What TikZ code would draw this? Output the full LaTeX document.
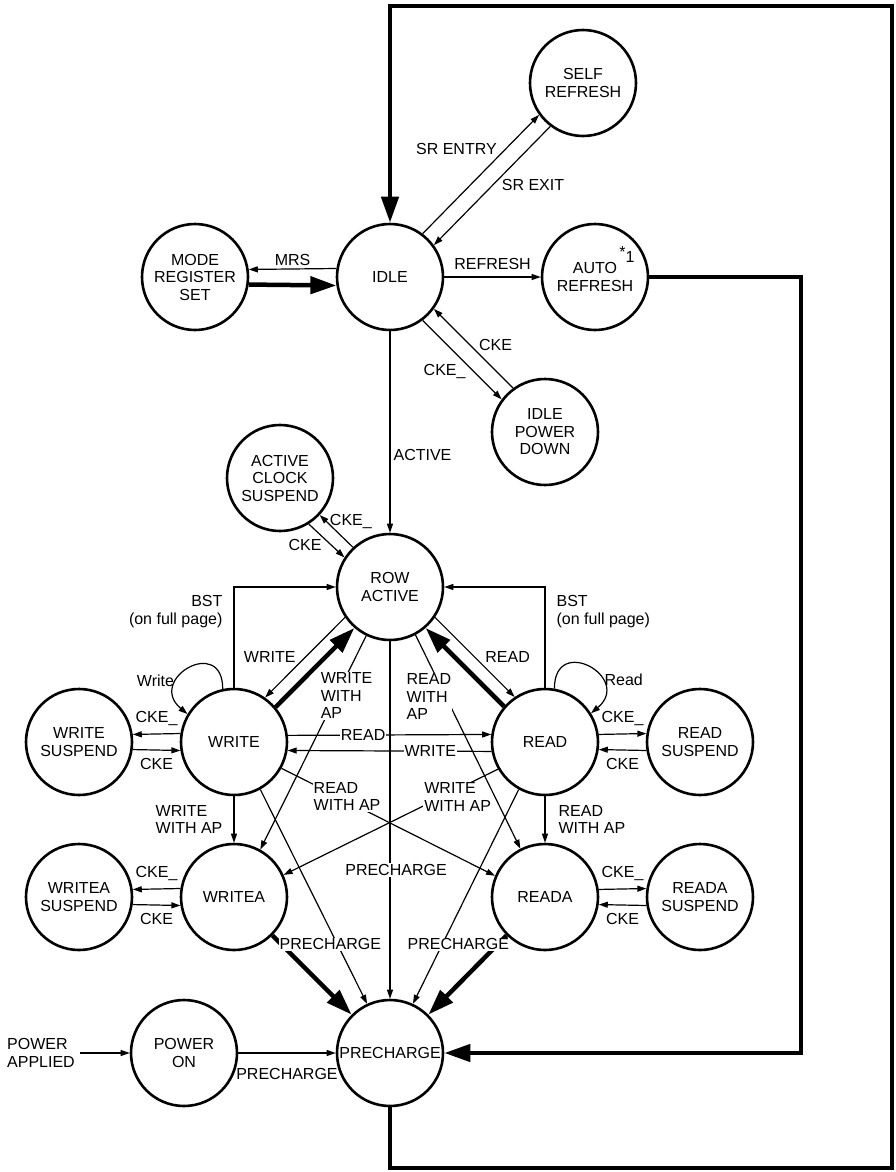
\documentclass[tikz,border=0pt]{standalone}
\usepackage{fontspec}
\setmainfont{Liberation Sans}
\usepackage{tikz}
\usetikzlibrary{arrows}
\usetikzlibrary{arrows.meta}
\usetikzlibrary{positioning}

\begin{document}
\begin{tikzpicture}[x=1pt, y=1pt]
\fontsize{16}{17.5}\selectfont
\useasboundingbox (0,-1172) rectangle (895,0);

% states
\begin{scope}[every node/.style={circle, draw=black, line width=2.6pt, minimum size=106pt, inner sep=0pt, align=center}]
    \node (selfref) at (583,-83) {SELF\\REFRESH};
    \node (mrs) at (195,-277) {MODE\\REGISTER\\SET};
    \node (idle) at (390,-277) {IDLE};
    \node (autoref) at (595,-277) {AUTO\\REFRESH};
    \node (idlepd) at (545,-432) {IDLE\\POWER\\DOWN};
    \node (acs) at (280,-478) {ACTIVE\\CLOCK\\SUSPEND};
    \node (rowact) at (390,-587) {ROW\\ACTIVE};
    \node (wsusp) at (79,-742) {WRITE\\SUSPEND};
    \node (write) at (234,-742) {WRITE};
    \node (read) at (545,-742) {READ};
    \node (rsusp) at (700,-742) {READ\\SUSPEND};
    \node (wasusp) at (79,-897) {WRITEA\\SUSPEND};
    \node (writea) at (234,-897) {WRITEA};
    \node (reada) at (545,-897) {READA};
    \node (rasusp) at (700,-897) {READA\\SUSPEND};
    \node (pwron) at (184,-1053) {POWER\\ON};
    \node (prech) at (390,-1053) {PRECHARGE};
\end{scope}

\node (note) [anchor=base, inner sep=0pt] at (627,-262) {\raisebox{5pt}{*}1};
\node (pwrapp) [anchor=west, align=left, inner sep=5pt] at (2,-1053) {POWER\\APPLIED};
\coordinate (rloop) at (801,-665);
\coordinate (cbot) at (892,-1168);
\coordinate (ctop) at (892,-6);

% heavy transitions
\begin{scope}[>={Stealth[length=26pt, width=17pt, inset=0pt]}, line width=4.5pt,
              every edge/.style={draw=black, line width=4.5pt}]
    \path [->] (mrs.-8.5) edge (idle.-171.5);
    \path [->] (write.40.6) edge (rowact.229);
    \path [->] (read.139.4) edge (rowact.-49);
    \path [->] (writea.-45) edge (prech.135);
    \path [->] (reada.-135) edge (prech.45);
    \draw [->] (autoref.east) -| (rloop) |- (prech.east);
    \draw [->] (prech.south) |- (cbot) -- (ctop) -| (idle.north);
\end{scope}

% commands
\begin{scope}[>={Stealth[length=9pt, width=6pt, inset=0pt]}, line width=1.2pt,
              every edge/.style={draw=black, line width=1.2pt},
              every node/.style={inner sep=3pt},
              onwire/.style={fill=white, inner sep=1pt, align=left}]
    \path [->] (idle.171.5) edge node [above] {MRS} (mrs.8.5);
    \path [->] (idle.53.4) edge node [pos=0.65, above left, inner sep=1pt] {SR ENTRY} (selfref.216.6);
    \path [->] (selfref.233.4) edge node [pos=0.43, below right, inner sep=1pt] {SR EXIT} (idle.36.6);
    \path [->] (idle.east) edge node [above=4pt] {REFRESH} (autoref.west);
    \path [->] (idle.-53.4) edge node [pos=0.55, below left, inner sep=0pt] {CKE\_} (idlepd.143.4);
    \path [->] (idlepd.126.6) edge node [pos=0.45, above right, inner sep=1pt] {CKE} (idle.-36.6);
    \path [->] (idle.south) edge node [pos=0.616, right] {ACTIVE} (rowact.north);
    \path [->] (rowact.133.5) edge node [pos=0.8, right] {CKE\_} (acs.-43);
    \path [->] (acs.-58) edge node [pos=0.4, below left, inner sep=1pt] {CKE} (rowact.147.5);

    \draw [->] (write.north) |- node [pos=0.5, below left, align=right, xshift=-8pt, yshift=-5pt] {BST\\(on full page)} (rowact.west);
    \draw [->] (read.north) |- node [pos=0.5, below right, align=left, xshift=8pt, yshift=-5pt] {BST\\(on full page)} (rowact.east);

    \path [->] (write.102) edge [out=90, in=140, looseness=3.2] node [pos=0.68, left] {Write} (write.149);
    \path [->] (read.80) edge [out=90, in=40, looseness=3.2] node [pos=0.68, right] {Read} (read.32);

    \path [->] (rowact.214.3) edge node [pos=0.5, left=6pt] {WRITE} (write.55.3);
    \path [->] (rowact.-34.3) edge node [pos=0.5, right=7pt] {READ} (read.124.7);

    \path [->] (write.171.6) edge node [above=5pt] {CKE\_} (wsusp.8.4);
    \path [->] (wsusp.-8.4) edge node [below=5pt] {CKE} (write.-171.6);
    \path [->] (writea.171.6) edge node [above=5pt] {CKE\_} (wasusp.8.4);
    \path [->] (wasusp.-8.4) edge node [below=5pt] {CKE} (writea.-171.6);
    \path [->] (read.8.4) edge node [above=5pt] {CKE\_} (rsusp.171.6);
    \path [->] (rsusp.-171.6) edge node [below=5pt] {CKE} (read.-8.4);
    \path [->] (reada.8.4) edge node [above=5pt] {CKE\_} (rasusp.171.6);
    \path [->] (rasusp.-171.6) edge node [below=5pt] {CKE} (reada.-8.4);

    \path [->] (write.south) edge node [left=8pt, align=left] {WRITE\\WITH AP} (writea.north);
    \path [->] (read.south) edge node [right=10pt, align=left] {READ\\WITH AP} (reada.north);

    \path [->] (write.7.3) edge node [onwire, pos=0.37] {READ} (read.172.7);
    \path [->] (read.-170.6) edge node [onwire, pos=0.30] {WRITE} (write.-9.4);
    \path [->] (rowact.244.5) edge node [onwire, pos=0.28, xshift=10pt] {WRITE\\WITH\\AP} (writea.61);
    \path [->] (write.-29.7) edge node [onwire, pos=0.307, yshift=5pt] {READ\\WITH AP} (reada.157);
    \path [->] (read.-150.8) edge node [onwire, pos=0.188, yshift=-8pt] {WRITE\\WITH AP} (writea.24);
    \path [->] (rowact.-62) edge node [onwire, pos=0.29, xshift=-17pt] {READ\\WITH\\AP} (reada.117);

    \path [->] (rowact.south) edge node [onwire, pos=0.64, xshift=6pt] {PRECHARGE} (prech.north);
    \path [->] (write.-61) edge node [onwire, pos=0.722, xshift=-7pt] {PRECHARGE} (prech.115);
    \path [->] (read.-119) edge node [onwire, pos=0.722, xshift=16pt] {PRECHARGE} (prech.65);

    \path [->] (pwrapp.east) edge (pwron.west);
    \path [->] (pwron.east) edge node [below=12pt] {PRECHARGE} (prech.west);
\end{scope}

\end{tikzpicture}
\end{document}
